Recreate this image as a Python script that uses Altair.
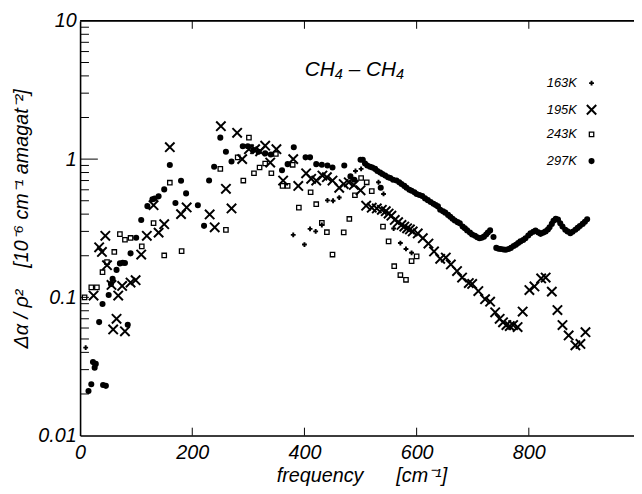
import altair as alt
import pandas as pd

# ---------------- data ----------------
series_names = ["163K", "195K", "243K", "297K"]

x163 = [10, 380, 400, 410, 420, 431, 441, 451, 462, 491, 501, 532, 541, 559, 571, 581, 591]
y163 = [0.0433, 0.283, 0.241, 0.313, 0.30, 0.334, 0.503, 0.50, 0.527, 0.82, 0.85, 0.68, 0.56,
        0.315, 0.247, 0.224, 0.21]

x195 = [24, 34, 39, 45, 48, 56, 59, 65, 68, 75, 80, 90, 99, 109, 119, 131, 140, 150, 160, 180,
        190, 231, 240, 251, 260, 270, 280, 289, 301, 312, 321, 330, 339, 350, 362, 380, 389, 403,
        412, 421, 432, 440, 450, 462, 470, 479, 488, 500, 510, 520, 529, 538, 545, 550, 555, 561,
        567, 573, 578, 583, 588, 593, 602, 611, 621, 631, 642, 652, 661, 672, 681, 693, 699, 710,
        722, 731, 740, 748, 754, 760, 766, 772, 780, 789, 801, 810, 822, 830, 841, 851, 860, 871,
        883, 892, 901]
y195 = [0.103, 0.23, 0.213, 0.279, 0.171, 0.123, 0.0586, 0.070, 0.103, 0.121, 0.0568, 0.128,
        0.133, 0.204, 0.279, 0.464, 0.294, 0.338, 1.22, 0.40, 0.447, 0.398, 0.321, 1.73, 0.61,
        0.44, 1.55, 1.0, 1.18, 1.18, 1.14, 1.25, 0.944, 1.18, 0.70, 1.0, 0.64, 0.79, 0.72, 0.70,
        0.76, 0.74, 0.70, 0.62, 0.66, 0.68, 0.65, 0.595, 0.46, 0.445, 0.44, 0.43, 0.42, 0.404,
        0.39, 0.363, 0.35, 0.334, 0.325, 0.316, 0.31, 0.30, 0.29, 0.268, 0.245, 0.215, 0.19,
        0.194, 0.173, 0.155, 0.139, 0.127, 0.125, 0.111, 0.097, 0.093, 0.078, 0.070, 0.066,
        0.063, 0.062, 0.063, 0.061, 0.079, 0.113, 0.12, 0.137, 0.139, 0.11, 0.081, 0.063, 0.053,
        0.045, 0.046, 0.056]

x243 = [8, 20, 30, 40, 48, 61, 71, 80, 90, 110, 131, 150, 160, 181, 250, 260, 281, 291, 301,
        310, 320, 330, 341, 349, 361, 370, 379, 390, 411, 421, 431, 440, 450, 470, 480, 490, 501,
        511, 520, 540, 550, 560, 571, 581, 591, 600]
y243 = [0.10, 0.118, 0.118, 0.152, 0.18, 0.213, 0.287, 0.261, 0.269, 0.234, 0.344, 0.201, 0.675,
        0.216, 0.85, 0.308, 1.03, 0.70, 1.43, 0.79, 0.87, 0.93, 0.79, 1.09, 0.64, 0.64, 0.91,
        0.446, 0.576, 0.472, 0.346, 0.296, 0.204, 0.295, 0.369, 0.548, 0.73, 0.68, 0.587, 0.325,
        0.254, 0.168, 0.145, 0.134, 0.183, 0.198]

x297 = [15, 20, 23, 26, 28, 34, 40, 41, 46, 51, 55, 58, 65, 71, 76, 80, 85, 90, 100, 109, 120,
        129, 133, 140, 150, 160, 170, 180, 189, 210, 221, 230, 239, 250, 260, 270, 290, 299, 309,
        318, 330, 340, 360, 370, 381, 402, 410, 421, 431, 441, 450, 471, 482, 489, 536]
y297 = [0.021, 0.0235, 0.034, 0.031, 0.033, 0.0662, 0.0896, 0.0232, 0.0229, 0.104, 0.125, 0.136,
        0.158, 0.176, 0.178, 0.177, 0.0633, 0.208, 0.27, 0.363, 0.457, 0.512, 0.518, 0.538, 0.604,
        0.906, 0.481, 0.697, 0.565, 0.464, 0.329, 0.70, 0.88, 1.43, 1.13, 0.96, 1.24, 1.24, 1.16,
        1.13, 1.10, 1.08, 0.83, 0.92, 1.22, 1.03, 1.03, 0.92, 0.91, 0.90, 0.87, 0.90, 0.75, 0.71,
        0.62]

# dense run of 297K points above 500 cm-1
x297_run = [500, 504, 508, 512, 517, 521, 526, 530, 535, 539, 544, 549, 553, 558, 564, 569, 573,
            578, 582, 587, 591, 596, 600, 605, 610, 615, 620, 625, 630, 634, 638, 642, 647, 651,
            656, 660, 664, 668, 673, 677, 682, 686, 690, 695, 699, 704, 708, 712, 716, 720, 724,
            727, 731, 737, 742, 746, 750, 755, 759, 764, 768, 773, 777, 781, 785, 790, 794, 799,
            803, 808, 812, 817, 821, 826, 830, 834, 837, 841, 844, 848, 852, 856, 860, 865, 869,
            874, 878, 883, 887, 891, 896, 900, 904]
y297_run = [0.99, 0.99, 0.93, 0.90, 0.88, 0.87, 0.85, 0.82, 0.80, 0.78, 0.76, 0.74, 0.73, 0.71,
            0.70, 0.68, 0.66, 0.64, 0.62, 0.60, 0.59, 0.575, 0.56, 0.55, 0.54, 0.52, 0.505, 0.49,
            0.475, 0.465, 0.455, 0.43, 0.42, 0.41, 0.395, 0.383, 0.37, 0.36, 0.35, 0.343, 0.325,
            0.316, 0.305, 0.294, 0.285, 0.279, 0.272, 0.268, 0.27, 0.275, 0.285, 0.294, 0.305,
            0.273, 0.228, 0.225, 0.224, 0.222, 0.221, 0.224, 0.228, 0.235, 0.24, 0.247, 0.254,
            0.26, 0.268, 0.28, 0.291, 0.298, 0.304, 0.295, 0.288, 0.294, 0.30, 0.31, 0.321, 0.34,
            0.358, 0.37, 0.365, 0.343, 0.325, 0.308, 0.30, 0.291, 0.298, 0.308, 0.318, 0.328,
            0.34, 0.352, 0.367]

x_tick_values = [0, 200, 400, 600, 800]
y_label_values = [0.01, 0.1, 1, 10]
y_minor_ticks = [0.02, 0.03, 0.04, 0.05, 0.06, 0.07, 0.08, 0.09, 0.1,
                 0.2, 0.3, 0.4, 0.5, 0.6, 0.7, 0.8, 0.9,
                 2, 3, 4, 5, 6, 7, 8, 9]
y_major_ticks = [1]
x_inner_ticks = [200, 400, 600, 800]
title_text = ["CH\u2084 \u2013 CH\u2084"]

# ---------------- layout ----------------
W, H = 561, 420
FONT = "Liberation Sans"
legend_y = [63, 90, 115, 142]
legend_label_x = 503
legend_symbol_x = 518

rows = []
for name, xs_, ys_ in [("163K", x163, y163), ("195K", x195, y195), ("243K", x243, y243),
                       ("297K", x297 + x297_run, y297 + y297_run)]:
    for a, b in zip(xs_, ys_):
        rows.append({"series": name, "freq": a, "val": b})
pts = pd.DataFrame(rows)

xs = alt.Scale(domain=[0, 987.5], nice=False, zero=False)
ys = alt.Scale(type="log", domain=[0.01, 10], nice=False)

x_axis = alt.Axis(values=x_tick_values, title="frequency" + "\u00a0" * 6 + "[cm\u207b\u00b9]",
                  labelFont=FONT, labelFontSize=20, labelFontStyle="italic", labelColor="black",
                  labelPadding=7, labelFlush=False, ticks=False, grid=False,
                  domainColor="black", domainWidth=1.6,
                  titleFont=FONT, titleFontSize=20, titleFontStyle="italic",
                  titleFontWeight="normal", titleColor="black",
                  titleBaseline="alphabetic", titleY=47, titleX=285)
y_axis = alt.Axis(values=y_label_values, format="~g",
                  title="\u0394\u03b1 / \u03c1\u00b2" + "\u00a0" * 4 + "[10\u207b\u2076 cm\u207b\u00b9 amagat\u207b\u00b2]",
                  labelFont=FONT, labelFontSize=20, labelFontStyle="italic", labelColor="black",
                  labelPadding=4, ticks=False, grid=False,
                  domainColor="black", domainWidth=1.6,
                  titleFont=FONT, titleFontSize=20, titleFontStyle="italic",
                  titleFontWeight="normal", titleColor="black",
                  titleAngle=270, titleAlign="center", titleBaseline="middle",
                  titleX=-59, titleY=200)

X = alt.X("freq:Q", scale=xs, axis=x_axis)
Y = alt.Y("val:Q", scale=ys, axis=y_axis)

base = alt.Chart(pts)


def series_layer(name, **mark):
    return base.transform_filter(alt.datum.series == name).mark_point(opacity=1, **mark).encode(
        x=X, y=Y)


XMARK = "M-1,-1L1,1M-1,1L1,-1"
style = {
    "163K": dict(shape="cross", filled=True, size=24, color="black"),
    "195K": dict(shape=XMARK, filled=False, size=90, stroke="black", strokeWidth=2),
    "243K": dict(shape="square", filled=False, size=20, stroke="black", strokeWidth=1.3),
    "297K": dict(shape="circle", filled=True, size=38, color="black"),
}

layers = [series_layer("297K", **style["297K"]),
          series_layer("243K", **style["243K"]),
          series_layer("195K", **style["195K"]),
          series_layer("163K", **style["163K"])]

# inward ticks on the left axis
minor_df = pd.DataFrame({"val": y_minor_ticks})
major_df = pd.DataFrame({"val": y_major_ticks})
layers.append(alt.Chart(minor_df).mark_rule(color="black", strokeWidth=1).encode(
    y=Y, x=alt.value(0), x2=alt.value(9)))
layers.append(alt.Chart(major_df).mark_rule(color="black", strokeWidth=1).encode(
    y=Y, x=alt.value(0), x2=alt.value(18)))

# inward ticks on bottom and top
xt_df = pd.DataFrame({"freq": x_inner_ticks})
layers.append(alt.Chart(xt_df).mark_rule(color="black", strokeWidth=1).encode(
    x=X, y=alt.value(H), y2=alt.value(H - 8)))
layers.append(alt.Chart(xt_df).mark_rule(color="black", strokeWidth=1).encode(
    x=X, y=alt.value(0), y2=alt.value(8)))

# top frame line
frame_df = pd.DataFrame({"val": [10]})
layers.append(alt.Chart(frame_df).mark_rule(color="black", strokeWidth=1.6).encode(
    y=Y, x=alt.value(0), x2=alt.value(W)))

# panel title
layers.append(alt.Chart(pd.DataFrame({"t": title_text})).mark_text(
    font=FONT, fontSize=21, fontStyle="italic", color="black", align="center",
    baseline="middle").encode(text="t:N", x=alt.value(278), y=alt.value(50)))

# legend (labels left of symbols)
leg_df = pd.DataFrame({"label": series_names, "ly": legend_y})
layers.append(alt.Chart(leg_df).mark_text(
    font=FONT, fontSize=13, fontStyle="italic", color="black", align="right",
    baseline="middle").encode(text="label:N", x=alt.value(legend_label_x),
                              y=alt.Y("ly:Q", scale=None, axis=None)))
for name, ly in zip(series_names, legend_y):
    st = dict(style[name])
    layers.append(alt.Chart(pd.DataFrame({"s": [name]})).mark_point(opacity=1, **st).encode(
        x=alt.value(legend_symbol_x), y=alt.value(ly)))

chart = alt.layer(*layers).properties(
    width=W, height=H,
    autosize=alt.AutoSizeParams(type="none"),
    padding={"left": 73, "top": 10, "right": 0, "bottom": 48},
).configure_view(stroke=None).configure(font=FONT, background="white")

chart.save("out.html", embed_options={"renderer": "svg", "actions": False})
